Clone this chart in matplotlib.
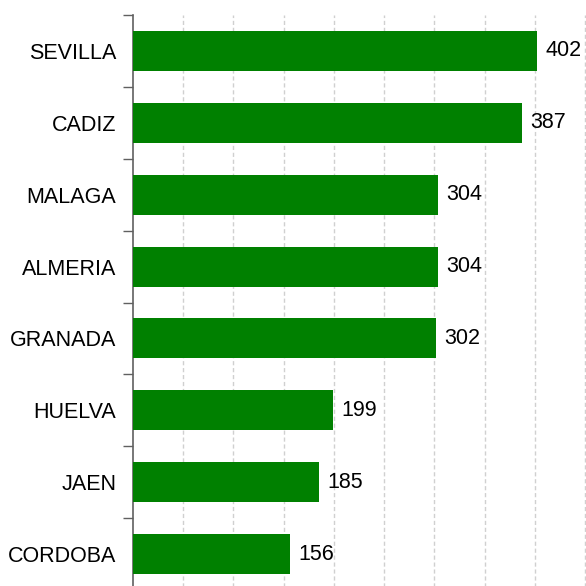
import numpy as np
import matplotlib.pyplot as plt

# Provinces and values, top to bottom
provinces = ["SEVILLA", "CADIZ", "MALAGA", "ALMERIA", "GRANADA", "HUELVA", "JAEN", "CORDOBA"]
values = [402, 387, 304, 304, 302, 199, 185, 156]

plt.rcParams["font.family"] = ["Liberation Sans", "DejaVu Sans"]

fig = plt.figure(figsize=(5.86, 5.86), dpi=100)
ax = fig.add_axes([133 / 586, -4 / 586, 1 - 133 / 586, 1 - 11 / 586])

y_pos = np.arange(len(provinces))
bars = ax.barh(y_pos, values, height=0.556, color="#008000", zorder=3)
ax.bar_label(bars, labels=[str(v) for v in values], padding=6, fontsize=15.5, color="black")

ax.set_ylim(len(provinces) - 0.5, -0.5)
ax.set_xlim(0, 451)

# category labels without tick marks, tick marks between categories
ax.set_yticks(y_pos)
ax.set_yticklabels(provinces, fontsize=15.5)
ax.tick_params(axis="y", which="major", length=0, pad=12)
ax.set_yticks(np.arange(-0.5, len(provinces), 1), minor=True)
ax.tick_params(axis="y", which="minor", length=7, width=1, color="#606060")

ax.set_xticks(np.arange(50, 451, 50))
ax.tick_params(axis="x", length=0, labelbottom=False)
ax.grid(axis="x", linestyle=(0, (3, 2)), color="#d0d0d0", linewidth=1, zorder=0)

for side in ["top", "right", "bottom"]:
    ax.spines[side].set_visible(False)
ax.spines["left"].set_color("#606060")
ax.spines["left"].set_linewidth(1.2)

plt.savefig("out.png", dpi=100)
